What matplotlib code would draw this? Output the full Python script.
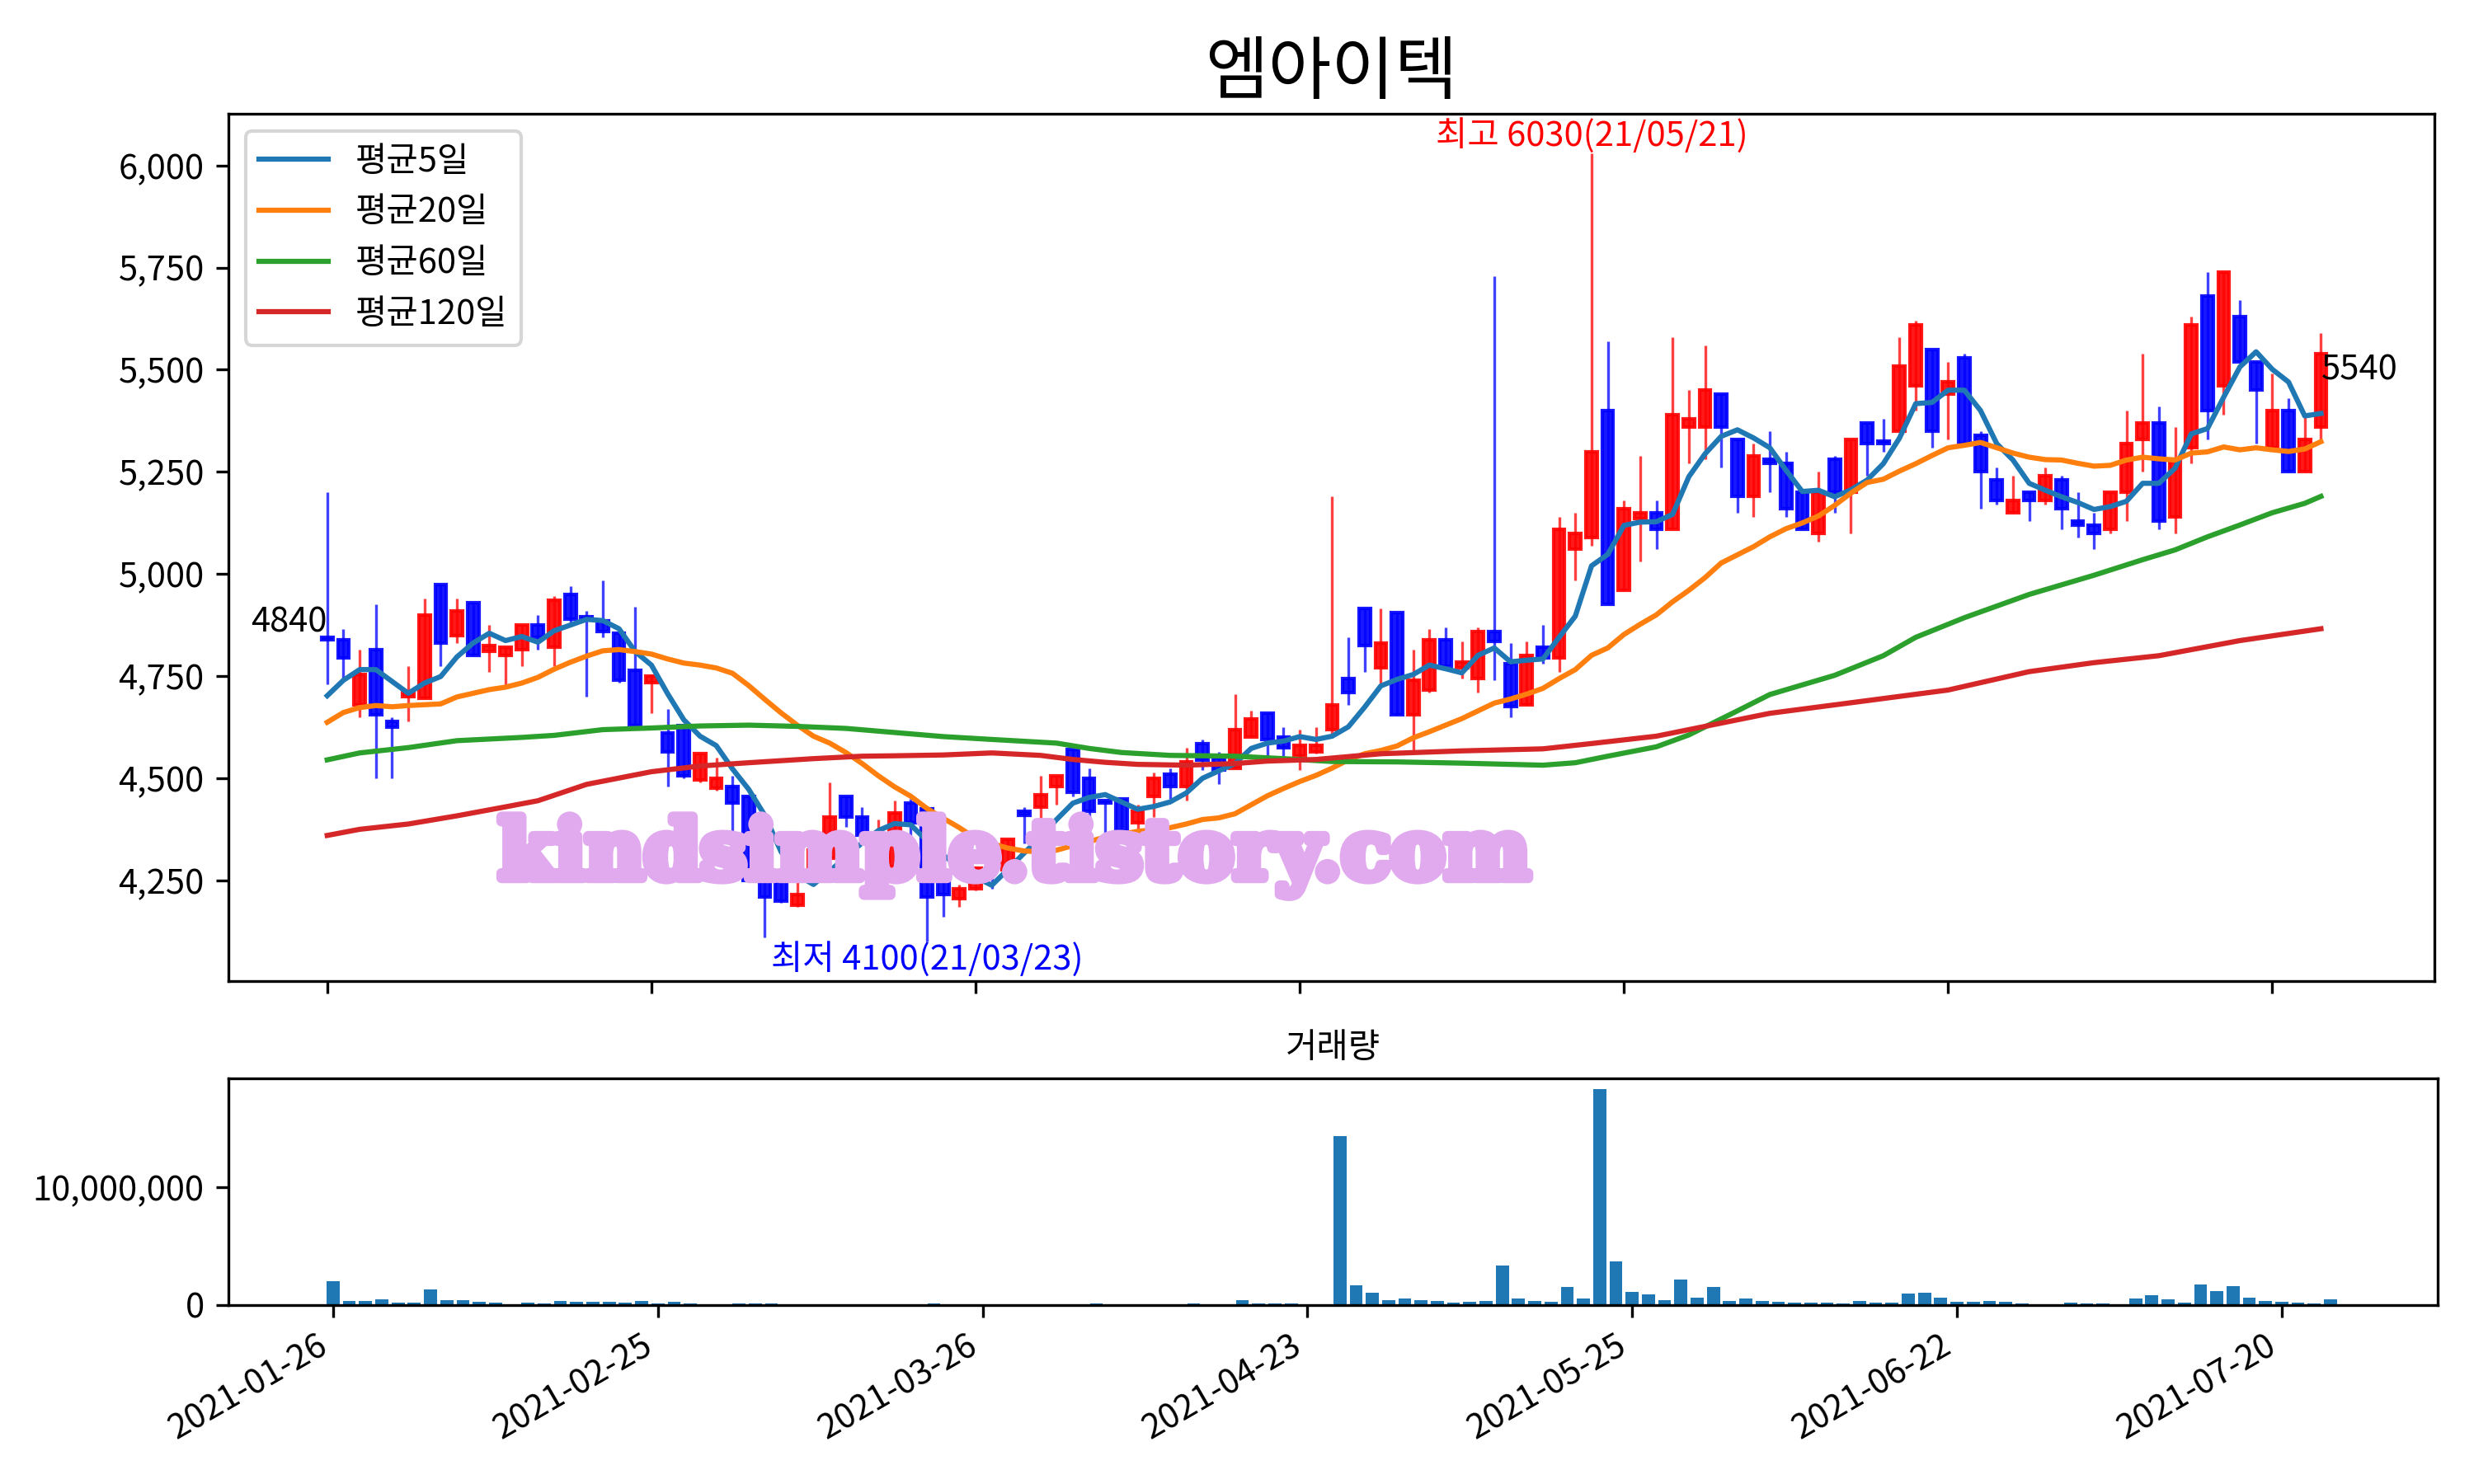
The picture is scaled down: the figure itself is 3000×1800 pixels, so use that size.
import matplotlib
matplotlib.use("Agg")
import matplotlib.pyplot as plt
import matplotlib.patheffects as pe
import numpy as np
from matplotlib.ticker import FuncFormatter

plt.rcParams['font.family'] = ['Noto Sans CJK KR', 'DejaVu Sans']

# 엠아이텍 daily prices, 2021-01-26 .. 2021-07-23 (trading day index 0..123)
opens = [4845, 4840, 4680, 4815, 4640, 4700, 4695, 4975, 4850, 4930,
         4810, 4800, 4815, 4875, 4820, 4950, 4895, 4885, 4855, 4765,
         4735, 4610, 4630, 4495, 4475, 4480, 4455, 4250, 4255, 4190,
         4280, 4305, 4455, 4405, 4325, 4285, 4440, 4425, 4255, 4205,
         4230, 4285, 4275, 4420, 4430, 4480, 4570, 4500, 4445, 4450,
         4390, 4455, 4510, 4480, 4585, 4550, 4525, 4600, 4660, 4600,
         4555, 4565, 4620, 4745, 4915, 4770, 4905, 4655, 4715, 4840,
         4770, 4745, 4860, 4780, 4680, 4820, 4795, 5060, 5090, 5400,
         4960, 5135, 5150, 5110, 5360, 5360, 5440, 5330, 5190, 5280,
         5270, 5200, 5100, 5280, 5200, 5370, 5325, 5350, 5460, 5550,
         5440, 5530, 5340, 5230, 5150, 5200, 5180, 5230, 5130, 5120,
         5110, 5200, 5330, 5370, 5140, 5310, 5680, 5460, 5630, 5520,
         5310, 5400, 5250, 5360]
highs = [5200, 4865, 4815, 4925, 4650, 4775, 4940, 4975, 4940, 4930,
         4875, 4820, 4875, 4900, 4945, 4970, 4910, 4985, 4855, 4920,
         4755, 4670, 4630, 4560, 4550, 4505, 4455, 4255, 4260, 4245,
         4330, 4490, 4455, 4430, 4400, 4445, 4450, 4430, 4300, 4240,
         4285, 4290, 4350, 4430, 4505, 4505, 4570, 4525, 4445, 4450,
         4435, 4515, 4525, 4575, 4595, 4565, 4705, 4665, 4660, 4625,
         4620, 4625, 5190, 4845, 4915, 4915, 4905, 4815, 4865, 4870,
         4835, 4870, 5730, 4830, 4835, 4875, 5140, 5150, 6030, 5570,
         5180, 5290, 5180, 5580, 5450, 5560, 5440, 5330, 5320, 5350,
         5300, 5200, 5250, 5290, 5330, 5370, 5380, 5580, 5620, 5550,
         5520, 5540, 5350, 5260, 5240, 5200, 5260, 5240, 5200, 5150,
         5200, 5400, 5540, 5410, 5360, 5630, 5740, 5740, 5670, 5520,
         5490, 5430, 5390, 5590]
lows = [4730, 4745, 4650, 4500, 4500, 4640, 4695, 4775, 4830, 4800,
        4760, 4725, 4775, 4815, 4775, 4880, 4700, 4845, 4735, 4630,
        4660, 4480, 4500, 4490, 4470, 4350, 4245, 4110, 4195, 4185,
        4270, 4300, 4380, 4340, 4320, 4280, 4255, 4100, 4160, 4185,
        4225, 4230, 4270, 4340, 4380, 4435, 4455, 4350, 4360, 4365,
        4375, 4405, 4450, 4445, 4520, 4485, 4525, 4600, 4555, 4555,
        4520, 4560, 4600, 4680, 4760, 4730, 4655, 4565, 4710, 4770,
        4745, 4710, 4740, 4650, 4680, 4780, 4760, 4985, 5070, 4925,
        4960, 5030, 5060, 5110, 5270, 5280, 5260, 5150, 5140, 5200,
        5140, 5110, 5080, 5150, 5100, 5240, 5300, 5350, 5400, 5310,
        5330, 5320, 5160, 5170, 5150, 5130, 5170, 5110, 5090, 5060,
        5100, 5130, 5250, 5110, 5100, 5270, 5330, 5390, 5520, 5320,
        5310, 5250, 5250, 5330]
closes = [4840, 4795, 4755, 4655, 4625, 4710, 4900, 4830, 4910, 4800,
          4825, 4820, 4875, 4845, 4935, 4890, 4890, 4860, 4740, 4630,
          4750, 4565, 4505, 4560, 4500, 4440, 4250, 4210, 4200, 4215,
          4325, 4405, 4405, 4360, 4360, 4415, 4390, 4210, 4215, 4230,
          4280, 4280, 4350, 4410, 4460, 4505, 4465, 4420, 4440, 4370,
          4420, 4500, 4480, 4540, 4545, 4520, 4620, 4645, 4595, 4575,
          4580, 4580, 4680, 4710, 4825, 4830, 4655, 4740, 4840, 4775,
          4785, 4860, 4835, 4675, 4800, 4795, 5110, 5100, 5300, 4925,
          5160, 5150, 5110, 5390, 5380, 5450, 5360, 5190, 5290, 5270,
          5160, 5110, 5200, 5200, 5330, 5320, 5320, 5510, 5610, 5350,
          5470, 5320, 5250, 5180, 5180, 5180, 5240, 5160, 5120, 5100,
          5200, 5320, 5370, 5130, 5280, 5610, 5400, 5740, 5520, 5450,
          5400, 5250, 5330, 5540]
volumes_m = [2.05, 0.37, 0.37, 0.51, 0.23, 0.23, 1.35, 0.44, 0.44, 0.30,
             0.23, 0.08, 0.23, 0.16, 0.37, 0.30, 0.30, 0.30, 0.23, 0.37,
             0.16, 0.30, 0.16, 0.05, 0.05, 0.16, 0.16, 0.16, 0.05, 0.05,
             0.05, 0.05, 0.05, 0.05, 0.05, 0.05, 0.05, 0.16, 0.05, 0.05,
             0.05, 0.05, 0.05, 0.05, 0.05, 0.05, 0.05, 0.16, 0.05, 0.05,
             0.05, 0.05, 0.05, 0.16, 0.05, 0.05, 0.44, 0.16, 0.16, 0.16,
             0.05, 0.05, 14.38, 1.68, 1.07, 0.44, 0.58, 0.44, 0.37, 0.23,
             0.30, 0.37, 3.39, 0.58, 0.37, 0.30, 1.56, 0.58, 18.39, 3.74,
             1.14, 0.93, 0.44, 2.19, 0.65, 1.56, 0.37, 0.58, 0.37, 0.30,
             0.23, 0.23, 0.23, 0.16, 0.37, 0.23, 0.23, 1.00, 1.07, 0.65,
             0.30, 0.30, 0.37, 0.30, 0.16, 0.08, 0.08, 0.23, 0.16, 0.16,
             0.08, 0.58, 0.86, 0.51, 0.23, 1.77, 1.21, 1.63, 0.65, 0.37,
             0.30, 0.23, 0.16, 0.51]

ma5 = [4702, 4740, 4766, 4766, 4737, 4708, 4733, 4749, 4797, 4831,
       4855, 4837, 4847, 4833, 4861, 4875, 4889, 4886, 4866, 4810,
       4777, 4707, 4643, 4603, 4580, 4523, 4473, 4409, 4320, 4263,
       4240, 4273, 4307, 4342, 4372, 4389, 4386, 4347, 4312, 4282,
       4258, 4238, 4277, 4317, 4356, 4399, 4439, 4453, 4460, 4442,
       4424, 4431, 4442, 4464, 4500, 4518, 4536, 4573, 4586, 4591,
       4602, 4595, 4603, 4626, 4674, 4726, 4742, 4754, 4777, 4768,
       4758, 4801, 4819, 4785, 4789, 4792, 4845, 4897, 5020, 5048,
       5119, 5127, 5128, 5146, 5238, 5294, 5337, 5353, 5333, 5309,
       5254, 5202, 5205, 5189, 5206, 5230, 5270, 5333, 5417, 5420,
       5450, 5450, 5400, 5319, 5279, 5222, 5205, 5189, 5175, 5158,
       5165, 5178, 5222, 5222, 5259, 5343, 5356, 5433, 5507, 5544,
       5501, 5470, 5387, 5393]
ma20 = [4637, 4661, 4673, 4678, 4675, 4678, 4680, 4682, 4699, 4708,
        4717, 4723, 4733, 4747, 4767, 4784, 4799, 4812, 4815, 4810,
        4804, 4792, 4782, 4777, 4770, 4757, 4727, 4693, 4660, 4630,
        4603, 4586, 4563, 4536, 4506, 4479, 4456, 4426, 4402, 4379,
        4353, 4340, 4329, 4322, 4320, 4324, 4335, 4345, 4356, 4363,
        4370, 4374, 4379, 4388, 4399, 4403, 4413, 4435, 4457, 4475,
        4492, 4507, 4525, 4545, 4560, 4568, 4579, 4599, 4614, 4630,
        4646, 4665, 4684, 4694, 4706, 4720, 4744, 4766, 4801, 4819,
        4852, 4877, 4900, 4932, 4960, 4991, 5027, 5047, 5067, 5091,
        5111, 5125, 5142, 5168, 5198, 5224, 5232, 5252, 5270, 5290,
        5309, 5315, 5322, 5309, 5296, 5286, 5280, 5279, 5271, 5264,
        5266, 5279, 5286, 5282, 5279, 5296, 5299, 5311, 5304, 5309,
        5304, 5300, 5306, 5324]
ma60_days = [0, 2, 5, 8, 12, 14, 17, 20, 23, 26, 29, 32, 35, 38, 41, 45,
             47, 49, 52, 56, 59, 62, 66, 70, 75, 77, 79, 82, 84, 87, 89,
             93, 96, 98, 101, 105, 109, 112, 114, 116, 118, 120, 122, 123]
ma60 = [4545, 4562, 4575, 4592, 4600, 4605, 4619, 4623, 4628, 4630, 4627,
        4622, 4612, 4602, 4595, 4586, 4573, 4563, 4556, 4554, 4548, 4541,
        4540, 4537, 4532, 4538, 4554, 4577, 4606, 4665, 4705, 4752, 4800,
        4845, 4893, 4950, 4997, 5035, 5059, 5091, 5120, 5150, 5173, 5190]
ma120_days = [0, 2, 5, 8, 11, 13, 16, 20, 23, 26, 30, 33, 35, 38, 41, 44,
              46, 48, 50, 53, 56, 58, 61, 65, 70, 75, 78, 82, 86, 89, 95,
              100, 105, 109, 113, 118, 123]
ma120 = [4360, 4375, 4388, 4408, 4430, 4445, 4485, 4516, 4530, 4538, 4548,
         4554, 4555, 4557, 4562, 4556, 4546, 4539, 4534, 4532, 4536, 4542,
         4546, 4560, 4567, 4572, 4585, 4603, 4635, 4659, 4690, 4716, 4761,
         4783, 4800, 4837, 4866]

tick_pos = [0, 20, 40, 60, 80, 100, 120]
tick_labels = ['2021-01-26', '2021-02-25', '2021-03-26', '2021-04-23',
               '2021-05-25', '2021-06-22', '2021-07-20']

opens = np.array(opens)
highs = np.array(highs)
lows = np.array(lows)
closes = np.array(closes)
volumes = np.array(volumes_m) * 1e6
days = np.arange(len(closes))

fig = plt.figure(figsize=(10, 6), dpi=300)
ax = fig.add_axes([0.0923, 0.3389, 0.8917, 0.5844])
ax2 = fig.add_axes([0.0923, 0.1206, 0.8930, 0.1528])

# candles
colors = np.where(closes > opens, 'red', 'blue')
ax.bar(days, closes - opens, bottom=opens, width=0.7, color=colors,
       edgecolor=colors, linewidth=1.0, alpha=0.9)
ax.vlines(days, lows, highs, colors=colors, linewidth=0.8, alpha=0.75)

ax.plot(days, ma5, label='평균5일')
ax.plot(days, ma20, label='평균20일')
ax.plot(ma60_days, ma60, label='평균60일')
ax.plot(ma120_days, ma120, label='평균120일')
ax.legend(loc='upper left')

# high / low / first / last labels
imax = int(np.argmax(highs))
imin = int(np.argmin(lows))
ax.text(imax, highs[imax], '최고 6030(21/05/21)', color='red',
        ha='center', va='bottom')
ax.text(imin, lows[imin], '최저 4100(21/03/23)', color='blue',
        ha='center', va='top')
ax.text(0, closes[0], f'{closes[0]}', ha='right', va='bottom')
ax.text(days[-1], closes[-1], f'{closes[-1]}', ha='left', va='top')

ax.set_xlim(-6.1, 130.0)
ax.set_ylim(4003.5, 6126.5)
ax.set_yticks(np.arange(4250, 6001, 250))
ax.yaxis.set_major_formatter(FuncFormatter(lambda v, p: f'{v:,.0f}'))
ax.set_xticks(tick_pos)
ax.tick_params(axis='x', labelbottom=False)
ax.set_title('엠아이텍', fontsize=20)

# volume
ax2.bar(days, volumes, width=0.8, color='#1f77b4')
ax2.set_xlim(-6.45, 129.6)
ax2.set_ylim(0, volumes.max() * 1.05)
ax2.set_yticks([0, 1e7])
ax2.yaxis.set_major_formatter(FuncFormatter(lambda v, p: f'{v:,.0f}'))
ax2.set_xticks(tick_pos)
ax2.set_xticklabels(tick_labels, rotation=30, ha='right')
ax2.set_title('거래량', fontsize=10)

# watermark, heavy lettering
fig.text(0.41, 0.4228, 'kindsimple.tistory.com', fontsize=23.5,
         fontweight='bold', family='DejaVu Serif', color='#e2aaee',
         ha='center', va='center', zorder=10,
         path_effects=[pe.withStroke(linewidth=3, foreground='#e2aaee')])

fig.savefig('out.png', dpi=300)
